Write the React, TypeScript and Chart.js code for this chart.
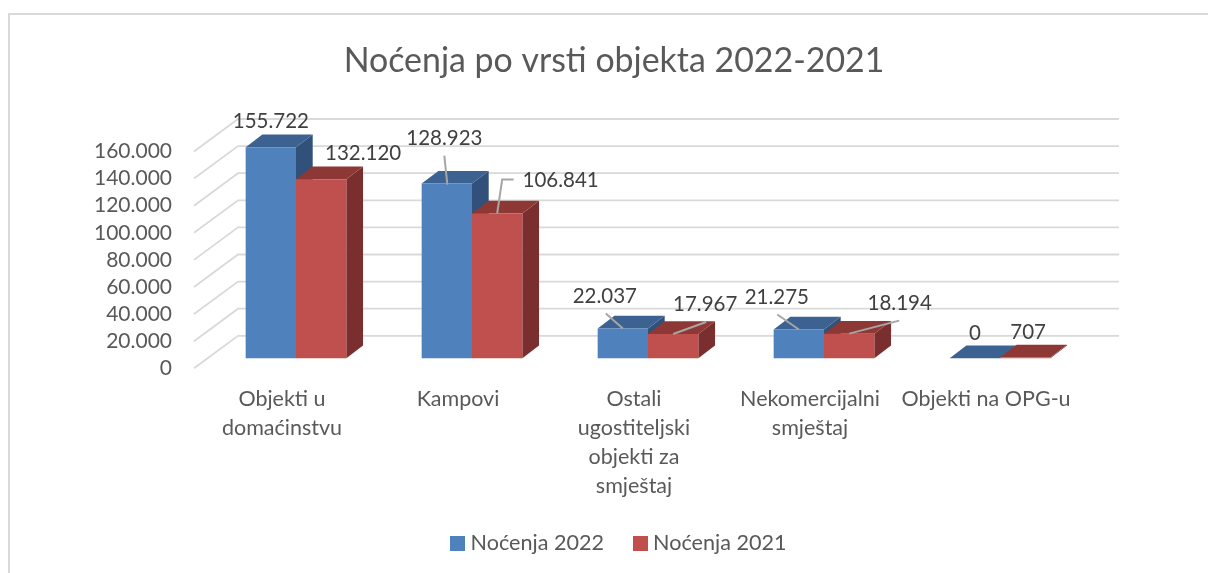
import React, { useEffect, useRef } from "react";
import { Chart, registerables } from "chart.js";

Chart.register(...registerables);

const TITLE = "Noćenja po vrsti objekta 2022-2021";
const CATEGORIES = [
  ["Objekti u", "domaćinstvu"],
  ["Kampovi"],
  ["Ostali", "ugostiteljski", "objekti za", "smještaj"],
  ["Nekomercijalni", "smještaj"],
  ["Objekti na OPG-u"],
];
const SERIES_2022_NAME = "Noćenja 2022";
const SERIES_2021_NAME = "Noćenja 2021";
const SERIES_2022 = [155722, 128923, 22037, 21275, 0];
const SERIES_2021 = [132120, 106841, 17967, 18194, 707];
const Y_MAX = 160000;
const Y_STEP = 20000;

const FONT = "Lato, 'Open Sans', sans-serif";
const FRONT = ["#4f81bd", "#c0504d"];
const TOP = ["#3c6291", "#8e3836"];
const SIDE = ["#31507a", "#7a2f2e"];

// Projection of the pseudo-3D plot
const WALL = { dx: 44, dy: 32.5 };
const BAR_SHIFT = { dx: 14, dy: -10 };
const DEPTH = { dx: 16.7, dy: 12.7 };

// Label offset from the centre of each bar's top edge, and optional leader line points (same origin)
const LABEL_OFFSETS = [
  [{ x: 0, y: -26 }, { x: -2.5, y: -45, line: [[-2.5, -28], [0.5, 1]] }, { x: -18, y: -32, line: [[-17, -15], [0, 0]] }, { x: -22, y: -32, line: [[-21.5, -15], [0, 0]] }, { x: 0, y: -25 }],
  [{ x: 42, y: -26 }, { x: 63.5, y: -33, line: [[16.5, -34], [5, -34], [0, 0]] }, { x: 32, y: -30, line: [[33, -12], [0, 0]] }, { x: 50.5, y: -30, line: [[50, -13], [0, 0]] }, { x: 3, y: -25 }],
];

function formatValue(v: number): string {
  return String(v).replace(/\B(?=(\d{3})+(?!\d))/g, ".");
}

function swatch(color: string): HTMLCanvasElement {
  const c = document.createElement("canvas");
  c.width = 15;
  c.height = 15;
  const g = c.getContext("2d")!;
  g.fillStyle = color;
  g.fillRect(0, 0, 15, 15);
  return c;
}

const pseudo3d = {
  id: "pseudo3d",
  afterLayout(chart: any) {
    const tb = chart.titleBlock;
    if (tb) {
      tb.left = 20;
      tb.right = 1208;
    }
    const lg = chart.legend;
    if (lg) {
      const h = lg.bottom - lg.top;
      lg.left = 34.8;
      lg.right = 1208;
      lg.top = 497.4;
      lg.bottom = lg.top + h;
    }
  },
  beforeDatasetsDraw(chart: any) {
    const { ctx, scales } = chart;
    const y = scales.y;
    ctx.save();
    ctx.strokeStyle = "#d9d9d9";
    ctx.lineWidth = 1.8;
    for (const t of y.ticks) {
      const py = y.getPixelForValue(t.value);
      ctx.beginPath();
      ctx.moveTo(y.right, py);
      ctx.lineTo(y.right + WALL.dx, py - WALL.dy);
      ctx.lineTo(scales.x.right + WALL.dx + 1, py - WALL.dy);
      ctx.stroke();
    }
    ctx.restore();

    ctx.save();
    ctx.translate(BAR_SHIFT.dx, BAR_SHIFT.dy);
    [0, 1].forEach((ds) => {
      chart.getDatasetMeta(ds).data.forEach((bar: any) => {
        const l = bar.x - bar.width / 2;
        const r = bar.x + bar.width / 2;
        const t = bar.y;
        const b = bar.base;
        ctx.fillStyle = SIDE[ds];
        ctx.beginPath();
        ctx.moveTo(r, t);
        ctx.lineTo(r + DEPTH.dx, t - DEPTH.dy);
        ctx.lineTo(r + DEPTH.dx, b - DEPTH.dy);
        ctx.lineTo(r, b);
        ctx.closePath();
        ctx.fill();
        ctx.fillStyle = TOP[ds];
        ctx.beginPath();
        ctx.moveTo(l, t);
        ctx.lineTo(l + DEPTH.dx, t - DEPTH.dy);
        ctx.lineTo(r + DEPTH.dx, t - DEPTH.dy);
        ctx.lineTo(r, t);
        ctx.closePath();
        ctx.fill();
      });
    });
  },
  afterDatasetsDraw(chart: any) {
    const { ctx } = chart;
    [0, 1].forEach((ds) => {
      const values = chart.data.datasets[ds].data;
      chart.getDatasetMeta(ds).data.forEach((bar: any, i: number) => {
        const o: any = LABEL_OFFSETS[ds][i];
        if (o.line) {
          ctx.strokeStyle = "#a6a6a6";
          ctx.lineWidth = 2;
          ctx.beginPath();
          o.line.forEach((p: number[], k: number) => {
            const px = bar.x + p[0];
            const py = bar.y + p[1];
            if (k === 0) ctx.moveTo(px, py);
            else ctx.lineTo(px, py);
          });
          ctx.stroke();
        }
        ctx.fillStyle = "#404040";
        ctx.font = `20.5px ${FONT}`;
        ctx.textAlign = "center";
        ctx.textBaseline = "middle";
        ctx.fillText(formatValue(values[i]), bar.x + o.x, bar.y + o.y);
      });
    });
    ctx.restore();
  },
};

export default function App() {
  const ref = useRef<HTMLCanvasElement | null>(null);
  useEffect(() => {
    if (!ref.current) return;
    const chart = new Chart(ref.current, {
      type: "bar",
      data: {
        labels: CATEGORIES,
        datasets: [
          { label: SERIES_2022_NAME, data: SERIES_2022, backgroundColor: FRONT[0], pointStyle: swatch(FRONT[0]), clip: false } as any,
          { label: SERIES_2021_NAME, data: SERIES_2021, backgroundColor: FRONT[1], pointStyle: swatch(FRONT[1]), clip: false } as any,
        ],
      },
      options: {
        animation: false,
        responsive: false,
        devicePixelRatio: 1,
        layout: { padding: { left: 0, right: 134, top: 0, bottom: 0 } },
        datasets: { bar: { barPercentage: 1, categoryPercentage: 0.572 } },
        scales: {
          x: {
            grid: { display: false, drawTicks: false },
            border: { display: false },
            ticks: {
              autoSkip: false,
              maxRotation: 0,
              minRotation: 0,
              padding: 16.5,
              color: "#595959",
              font: { family: FONT, size: 21.5, lineHeight: 1.35 },
            },
            afterFit(s: any) {
              s.height = 138.3;
            },
          },
          y: {
            min: 0,
            max: Y_MAX,
            grid: { display: false, drawTicks: false },
            border: { display: false },
            ticks: {
              autoSkip: false,
              stepSize: Y_STEP,
              padding: 22,
              color: "#595959",
              font: { family: FONT, size: 21 },
              callback: (v: any) => formatValue(Number(v)),
            },
            afterFit(s: any) {
              s.width = 194;
            },
          },
        },
        plugins: {
          tooltip: { enabled: false },
          title: {
            display: true,
            text: TITLE,
            color: "#595959",
            font: { family: FONT, size: 33.9, weight: "normal", lineHeight: 1.2 },
            padding: { top: 41, bottom: 69.8 },
          },
          legend: {
            position: "bottom",
            labels: {
              usePointStyle: true,
              pointStyleWidth: 3.4,
              padding: 34.8,
              color: "#595959",
              font: { family: FONT, size: 21.6 },
            },
          },
        },
      },
      plugins: [pseudo3d],
    } as any);
    return () => chart.destroy();
  }, []);
  return (
    <div style={{ position: "fixed", inset: 0, overflow: "hidden", background: "#fff" }}>
      <div
        style={{
          position: "absolute",
          left: 8,
          top: 13,
          width: 1300,
          height: 700,
          borderLeft: "2px solid #d9d9d9",
          borderTop: "2px solid #d9d9d9",
        }}
      />
      <canvas ref={ref} width={1208} height={573} style={{ position: "absolute", left: 0, top: 0 }} />
    </div>
  );
}
